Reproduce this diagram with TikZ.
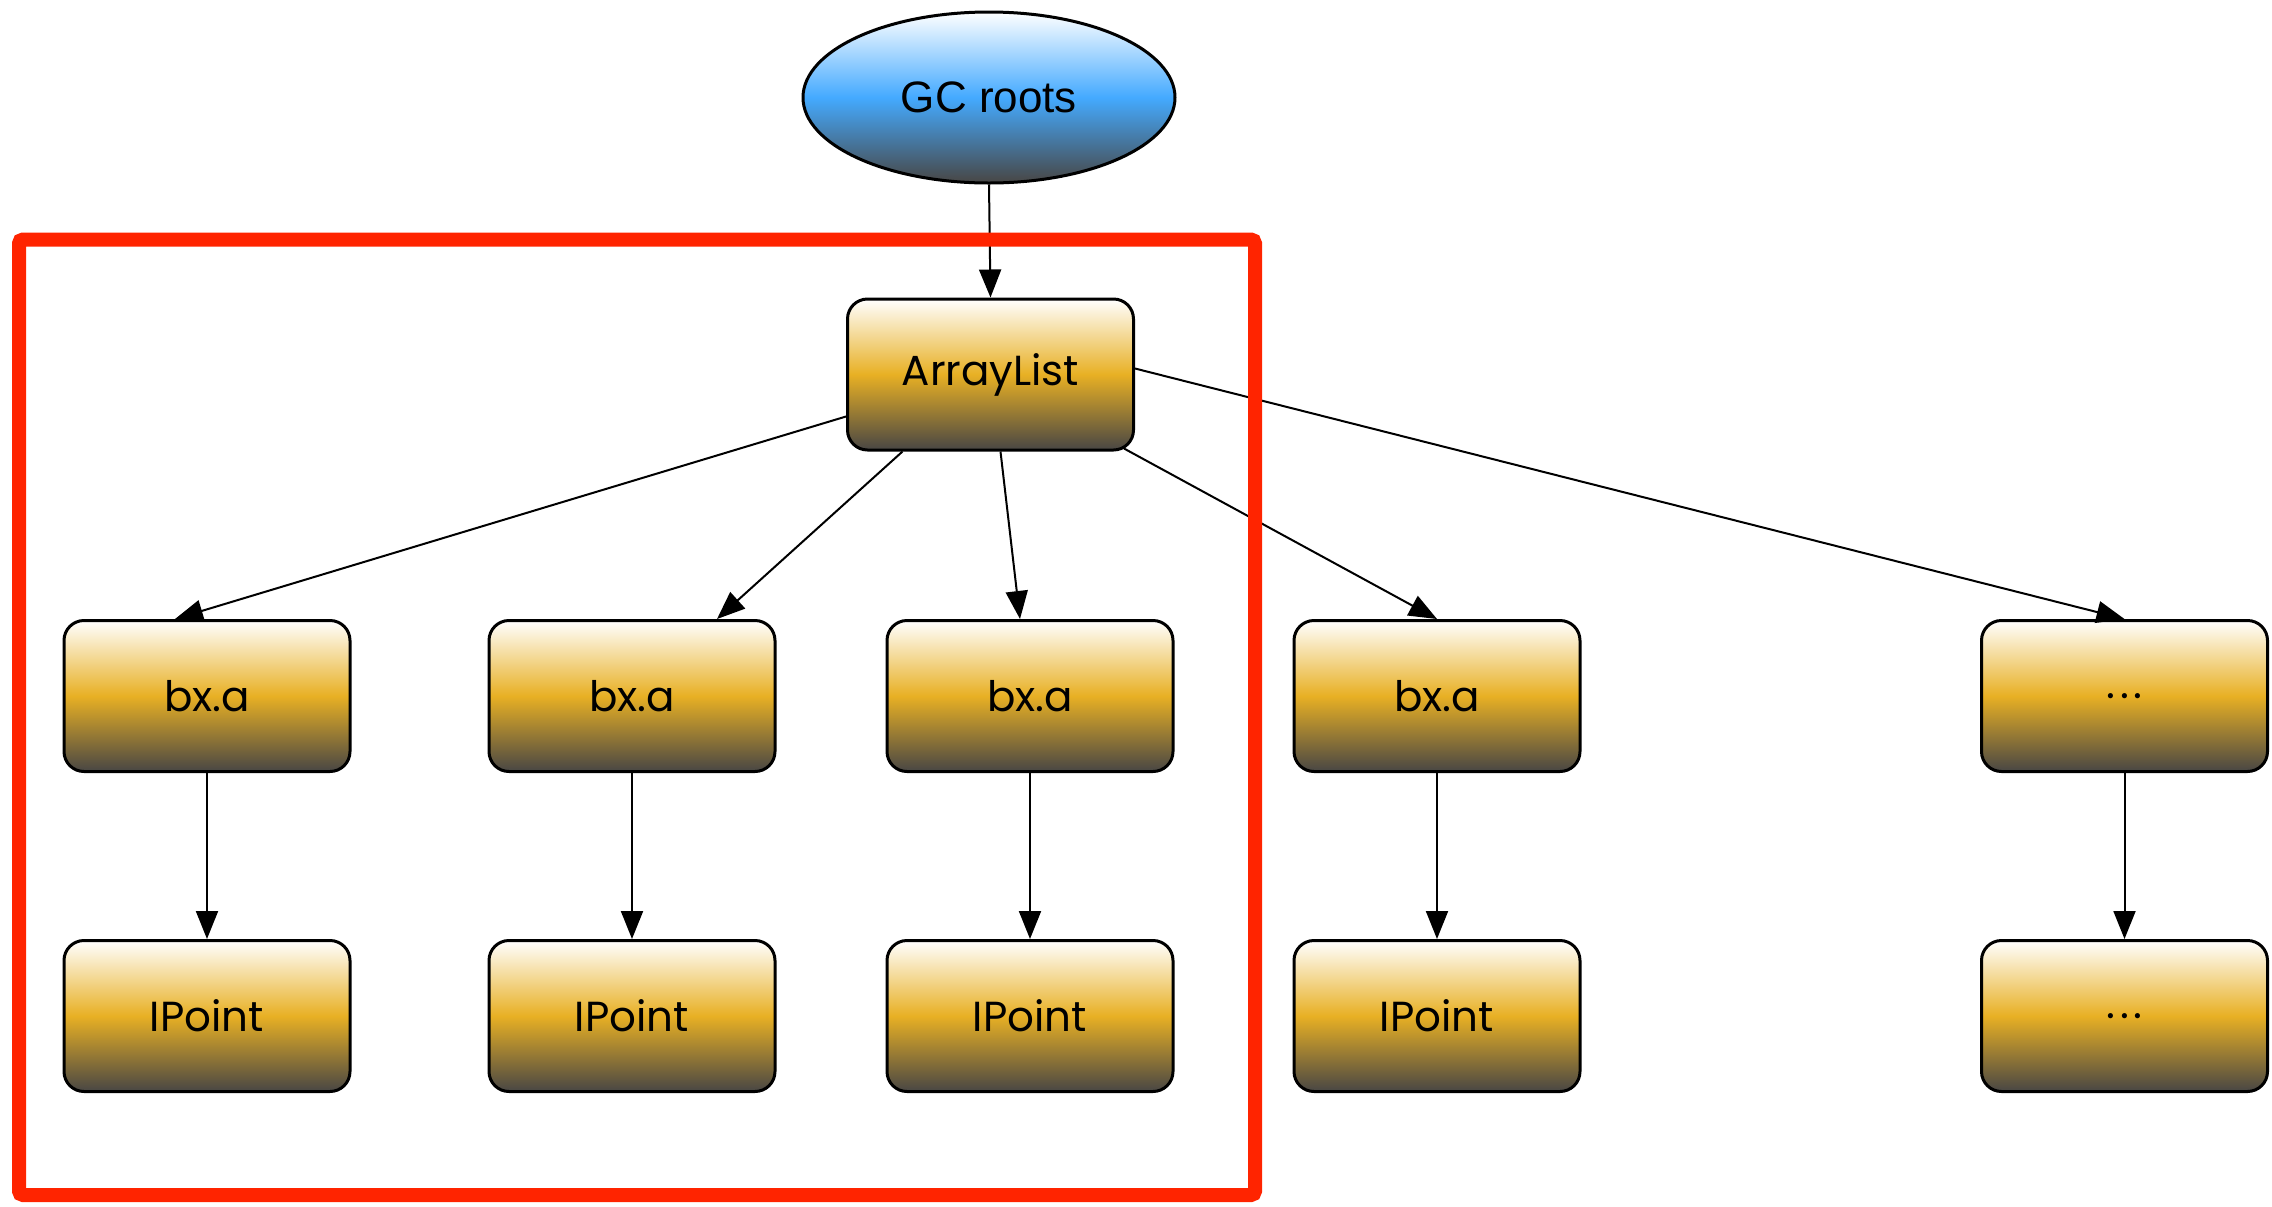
\documentclass[tikz,border=0pt]{standalone}
\usepackage{fontspec}
\setmainfont{Poppins}
\newfontfamily\helv{Liberation Sans}
\usetikzlibrary{shapes.geometric}
\usetikzlibrary{calc}
\usetikzlibrary{arrows.meta}
\definecolor{gold}{RGB}{232,176,36}
\definecolor{darkbase}{RGB}{72,70,68}
\definecolor{skyblue}{RGB}{68,170,255}
\definecolor{framered}{RGB}{255,36,0}

\begin{document}
\begin{tikzpicture}[x=0.5pt,y=-0.5pt,
  obj/.style={draw,line width=1.5pt,rounded corners=10pt,minimum width=143pt,minimum height=75.5pt,
    inner sep=0pt,top color=white,bottom color=darkbase,middle color=gold,font=\fontsize{21}{25}\selectfont},
  root/.style={ellipse,draw,line width=1.5pt,minimum width=186pt,minimum height=85.5pt,inner sep=0pt,
    top color=white,bottom color=darkbase,middle color=skyblue,font=\helv\fontsize{22}{26}\selectfont},
  ref/.style={-{Triangle[length=14pt,width=11pt]},line width=1pt}]
  \useasboundingbox (0,0) rectangle (2272,1206);

  \node [root] (GC) at (989,97.5) {GC roots};
  \node [obj] (AL) at (990.5,374.5) {ArrayList};

  \node [obj] (B1) at (207,696) {bx.a};
  \node [obj] (B2) at (632,696) {bx.a};
  \node [obj] (B3) at (1030,696) {bx.a};
  \node [obj] (B4) at (1437,696) {bx.a};
  \node [obj] (B5) at (2124.5,696) {.\hspace{2.5pt}.\hspace{2.5pt}.};

  \node [obj] (P1) at (207,1016) {IPoint};
  \node [obj] (P2) at (632,1016) {IPoint};
  \node [obj] (P3) at (1030,1016) {IPoint};
  \node [obj] (P4) at (1437,1016) {IPoint};
  \node [obj] (P5) at (2124.5,1016) {.\hspace{2.5pt}.\hspace{2.5pt}.};

  \draw [ref] (GC.south) -- (AL.north);
  \draw [ref] ($(AL.west)+(0,42)$) -- ($(B1.north)+(-32,0)$);
  \draw [ref] ($(AL.south)+(-88,0)$) -- ($(B2.north)+(85,0)$);
  \draw [ref] ($(AL.south)+(10,0)$) -- ($(B3.north)+(-10,0)$);
  \draw [ref] ($(AL.south east)+(-11,-3)$) -- (B4.north);
  \draw [ref] ($(AL.east)+(0,-6)$) -- (B5.north);

  \draw [ref] (B1) -- (P1);
  \draw [ref] (B2) -- (P2);
  \draw [ref] (B3) -- (P3);
  \draw [ref] (B4) -- (P4);
  \draw [ref] (B5) -- (P5);

  \draw [framered,line width=7pt,rounded corners=2pt] (19,239.5) rectangle (1255,1195);
\end{tikzpicture}
\end{document}
